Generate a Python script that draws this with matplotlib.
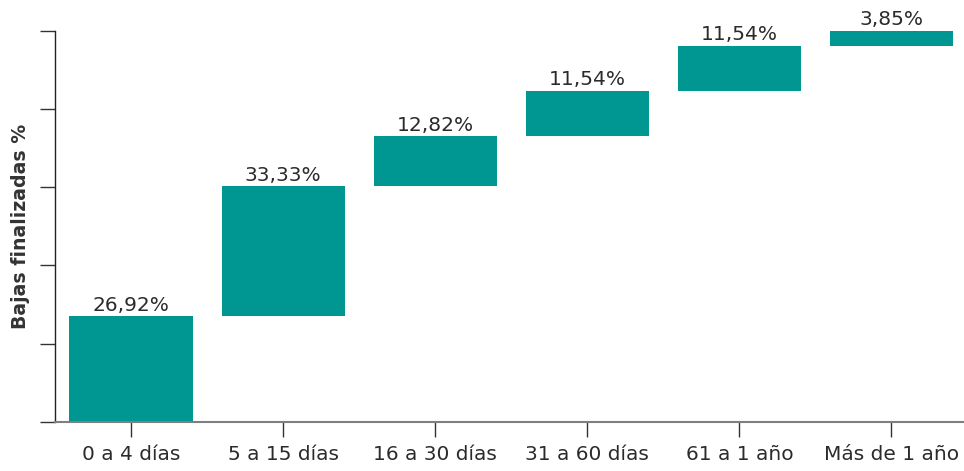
import matplotlib
matplotlib.use("Agg")
import matplotlib.pyplot as plt
import numpy as np

categories = ["0 a 4 días", "5 a 15 días", "16 a 30 días", "31 a 60 días", "61 a 1 año", "Más de 1 año"]
values = [26.92, 33.33, 12.82, 11.54, 11.54, 3.85]
labels = ["26,92%", "33,33%", "12,82%", "11,54%", "11,54%", "3,85%"]

W, H = 964, 471
fig = plt.figure(figsize=(W / 100, H / 100), dpi=100)
x0, x1 = 55, 964
y_top, y_bot = 30.7, 421.7
ax = fig.add_axes([x0 / W, (H - y_bot) / H, (x1 - x0) / W, (y_bot - y_top) / H])

vals = np.array(values)
bottoms = np.concatenate([[0], np.cumsum(vals)[:-1]])
xs = np.arange(len(categories))
teal = "#009792"
ax.bar(xs, vals, bottom=bottoms, width=0.81, color=teal, edgecolor="none", zorder=2)

for x, b, v, lab in zip(xs, bottoms, vals, labels):
    ax.annotate(lab, (x, b + v), xytext=(0, 1), textcoords="offset points",
                ha="center", va="bottom", fontsize=14.5, color="#2b2b2b",
                family="DejaVu Sans", clip_on=False)

ax.set_xlim(-0.5, 5.477)
ax.set_ylim(0, 100)
ax.set_xticks(xs)
ax.set_xticklabels(categories, fontsize=14.5, color="#2b2b2b")
ax.set_yticks([0, 20, 40, 60, 80, 100])
ax.set_yticklabels([])
ax.tick_params(axis="both", direction="out", length=11, width=1.0, color="#333333")
ax.tick_params(axis="x", pad=6)
for s in ["top", "right"]:
    ax.spines[s].set_visible(False)
ax.spines["left"].set_color("#222222")
ax.spines["left"].set_linewidth(1.0)
ax.spines["bottom"].set_color("#7f7f7f")
ax.spines["bottom"].set_linewidth(1.5)
fig.text(21 / W, 1 - 226 / H, "Bajas finalizadas %", rotation=90, ha="center", va="center",
         fontsize=13.6, fontweight="bold", color="#333333")

fig.savefig("out.png", dpi=100)
